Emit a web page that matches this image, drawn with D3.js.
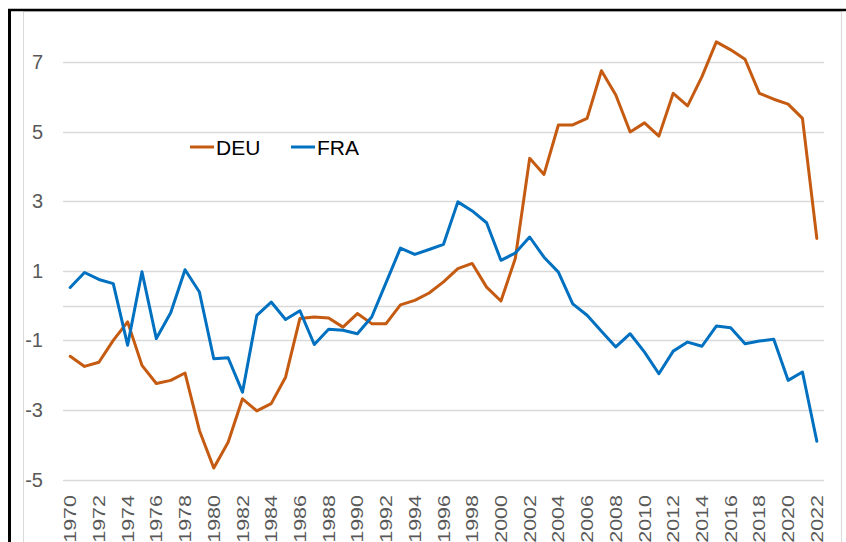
<!DOCTYPE html>
<html lang="en">
<head>
  <meta charset="UTF-8" />
  <title>DEU vs FRA</title>
  <style>
    * { margin:0; padding:0; box-sizing:border-box }
    body { background:#fff; font-family:'Liberation Sans', Arial, sans-serif; }
    svg { display:block; }
  </style>
</head>
<body>
  <div id="chart"></div>

  <script src="https://d3js.org/d3.v7.min.js"></script>
  <script>
    // years on the category axis
    const years = d3.range(1970, 2023);

    // series values, one per year
    const deu = [
      -1.46, -1.75, -1.63, -1.00, -0.47, -1.72, -2.24, -2.15, -1.94, -3.59,
      -4.67, -3.93, -2.68, -3.03, -2.82, -2.06, -0.37, -0.33, -0.36, -0.62,
      -0.23, -0.52, -0.52,  0.02,  0.15,  0.36,  0.68,  1.06,  1.21,  0.53,
       0.13,  1.35,  4.23,  3.77,  5.19,  5.19,  5.38,  6.75,  6.05,  4.99,
       5.25,  4.87,  6.10,  5.74,  6.58,  7.58,  7.35,  7.08,  6.10,  5.93,
       5.79,  5.38,  1.93
    ];
    const fra = [
       0.52,  0.95,  0.75,  0.63, -1.14,  0.97, -0.95, -0.21,  1.03,  0.39,
      -1.53, -1.50, -2.49, -0.28,  0.10, -0.40, -0.15, -1.12, -0.68, -0.71,
      -0.81, -0.33,  0.66,  1.65,  1.47,  1.61,  1.76,  2.98,  2.72,  2.38,
       1.30,  1.51,  1.97,  1.39,  0.96,  0.05, -0.28, -0.74, -1.19, -0.81,
      -1.34, -1.96, -1.31, -1.05, -1.17, -0.59, -0.64, -1.10, -1.02, -0.97,
      -2.15, -1.91, -3.90
    ];

    const seriesNames = ["DEU", "FRA"];
    const seriesColors = ["#C55A11", "#0070C0"];
    const yTicks = [-5, -3, -1, 1, 3, 5, 7];
    const xLabels = years.filter(y => (y - 1970) % 2 === 0);

    const W = 846, H = 542;
    const svg = d3.select("#chart").append("svg")
      .attr("width", W).attr("height", H);

    // frame: light chart border + dark top/left edge
    svg.append("rect")
      .attr("x", 23.5).attr("y", 11.5).attr("width", 818).attr("height", 540)
      .attr("fill", "none").attr("stroke", "#d9d9d9").attr("stroke-width", 1);
    svg.append("line").attr("x1", 8).attr("x2", 846).attr("y1", 10).attr("y2", 10)
      .attr("stroke", "#000").attr("stroke-width", 2.5);
    svg.append("line").attr("x1", 9.5).attr("x2", 9.5).attr("y1", 9).attr("y2", H)
      .attr("stroke", "#000").attr("stroke-width", 3);

    const x = d3.scalePoint().domain(years).range([63, 824]).padding(0.5);
    const y = d3.scaleLinear().domain([-5, 7]).range([479.5, 62]);

    // gridlines
    svg.append("g").selectAll("line")
      .data(yTicks.concat([0]))
      .join("line")
      .attr("x1", 63).attr("x2", 824)
      .attr("y1", d => Math.round(y(d)) + 0.5).attr("y2", d => Math.round(y(d)) + 0.5)
      .attr("stroke", "#d9d9d9").attr("stroke-width", 1.3);

    // y tick labels
    svg.append("g").selectAll("text")
      .data(yTicks)
      .join("text")
      .attr("x", 43).attr("y", d => y(d))
      .attr("dy", "0.35em")
      .attr("text-anchor", "end")
      .attr("fill", "#595959")
      .attr("font-size", 20)
      .text(d => d);

    // x tick labels, rotated
    svg.append("g").selectAll("text")
      .data(xLabels)
      .join("text")
      .attr("transform", d => `translate(${x(d)},495) scale(0.78,1) rotate(-90)`)
      .attr("dy", "0.36em")
      .attr("text-anchor", "end")
      .attr("fill", "#595959")
      .attr("font-size", 21.5)
      .text(d => d);

    // lines
    const line = d3.line()
      .x((d, i) => x(years[i]))
      .y(d => y(d));

    [deu, fra].forEach((vals, i) => {
      svg.append("path")
        .datum(vals)
        .attr("d", line)
        .attr("fill", "none")
        .attr("stroke", seriesColors[i])
        .attr("stroke-width", 3)
        .attr("stroke-linejoin", "round")
        .attr("stroke-linecap", "round");
    });

    // legend
    const legendX = [190, 291];
    const leg = svg.append("g").selectAll("g")
      .data(seriesNames)
      .join("g")
      .attr("transform", (d, i) => `translate(${legendX[i]},147)`);
    leg.append("line")
      .attr("x1", 0).attr("x2", 24)
      .attr("stroke", (d, i) => seriesColors[i])
      .attr("stroke-width", 3);
    leg.append("text")
      .attr("x", 26).attr("dy", "0.36em")
      .attr("font-size", 21)
      .attr("fill", "#000")
      .text(d => d);
  </script>
</body>
</html>
